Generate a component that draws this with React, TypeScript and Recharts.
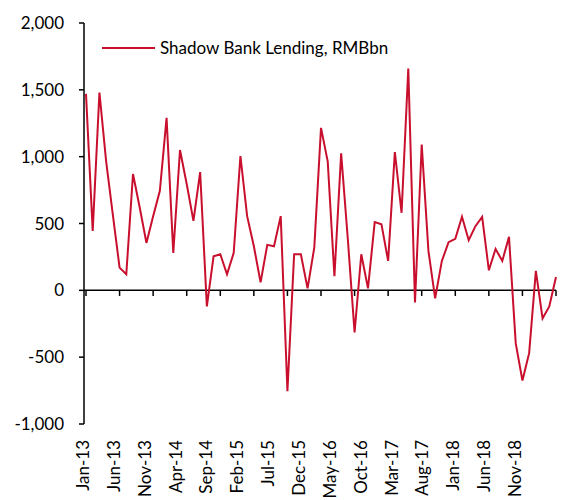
import React from "react";
import { LineChart, Line, XAxis, YAxis, ReferenceLine, Legend } from "recharts";

// monthly, Jan-13 .. Nov-18
const months = [
  "Jan-13", "Feb-13", "Mar-13", "Apr-13", "May-13", "Jun-13", "Jul-13", "Aug-13", "Sep-13", "Oct-13", "Nov-13", "Dec-13",
  "Jan-14", "Feb-14", "Mar-14", "Apr-14", "May-14", "Jun-14", "Jul-14", "Aug-14", "Sep-14", "Oct-14", "Nov-14", "Dec-14",
  "Jan-15", "Feb-15", "Mar-15", "Apr-15", "May-15", "Jun-15", "Jul-15", "Aug-15", "Sep-15", "Oct-15", "Nov-15", "Dec-15",
  "Jan-16", "Feb-16", "Mar-16", "Apr-16", "May-16", "Jun-16", "Jul-16", "Aug-16", "Sep-16", "Oct-16", "Nov-16", "Dec-16",
  "Jan-17", "Feb-17", "Mar-17", "Apr-17", "May-17", "Jun-17", "Jul-17", "Aug-17", "Sep-17", "Oct-17", "Nov-17", "Dec-17",
  "Jan-18", "Feb-18", "Mar-18", "Apr-18", "May-18", "Jun-18", "Jul-18", "Aug-18", "Sep-18", "Oct-18", "Nov-18",
];

const lending = [
  1470, 445, 1480, 965, 565, 170, 120, 870, 620, 355, 555, 745,
  1290, 280, 1050, 795, 520, 885, -120, 255, 270, 120, 280, 1005,
  555, 330, 60, 340, 330, 555, -755, 270, 270, 15, 320, 1215,
  965, 105, 1025, 380, -315, 270, 15, 510, 495, 220, 1035, 580,
  1660, -90, 1090, 295, -60, 220, 360, 385, 550, 375, 480, 550,
  150, 310, 220, 400, -395, -675, -470, 145, -210, -120, 100,
];

const tickMonths = ["Jan-13", "Jun-13", "Nov-13", "Apr-14", "Sep-14", "Feb-15", "Jul-15", "Dec-15",
  "May-16", "Oct-16", "Mar-17", "Aug-17", "Jan-18", "Jun-18", "Nov-18"];

const yTicks = [-1000, -500, 0, 500, 1000, 1500, 2000];

const data = months.map((m, i) => ({ month: m, value: lending[i] }));

const FONT = "Lato";
const RED = "#C8102E";

const LegendContent = ({ payload }: any) => (
  <div style={{ fontFamily: FONT, fontSize: 17, lineHeight: "20px", color: "#000" }}>
    {(payload || []).map((p: any) => (
      <div key={p.value} style={{ display: "flex", alignItems: "center" }}>
        <svg width={53} height={4} style={{ display: "block" }}>
          <line x1={0} y1={2} x2={53} y2={2} stroke={p.color} strokeWidth={2} />
        </svg>
        <span style={{ marginLeft: 5, whiteSpace: "nowrap" }}>{p.value}</span>
      </div>
    ))}
  </div>
);

export default function App() {
  return (
    <div style={{ position: "absolute", left: 0, top: 0, width: 566, height: 500, background: "#fff" }}>
      <LineChart width={566} height={500} data={data} margin={{ top: 23, right: 10, left: 0, bottom: 0 }}>
        <XAxis xAxisId="main" dataKey="month" hide padding={{ left: 2, right: 0 }} />
        {/* labels sit a little tighter than the ticks, like the original */}
        <XAxis
          xAxisId="labels"
          dataKey="month"
          height={76}
          interval={4}
          padding={{ left: 2, right: 38 }}
          axisLine={false}
          tickLine={false}
          angle={-90}
          textAnchor="end"
          dx={-9}
          dy={8}
          tick={{ fontFamily: FONT, fontSize: 17, fill: "#000" }}
        />
        <YAxis
          width={84}
          domain={[-1000, 2000]}
          ticks={yTicks}
          interval={0}
          tickSize={5}
          tickMargin={15}
          tickFormatter={(v: number) => v.toLocaleString("en-US")}
          axisLine={{ stroke: "#000", strokeWidth: 1.5 }}
          tickLine={{ stroke: "#000", strokeWidth: 1.5 }}
          tick={{ fontFamily: FONT, fontSize: 17, fill: "#000" }}
        />
        <ReferenceLine xAxisId="main" y={0} stroke="#000" strokeWidth={1.5} />
        {tickMonths.map((m) => (
          <ReferenceLine
            key={m}
            xAxisId="main"
            segment={[{ x: m, y: 0 }, { x: m, y: -42 }]}
            stroke="#000"
            strokeWidth={1.5}
          />
        ))}
        <Legend
          layout="horizontal"
          verticalAlign="middle"
          align="center"
          content={<LegendContent />}
          wrapperStyle={{ left: 102, top: 38, width: "auto", height: "auto" }}
        />
        <Line
          xAxisId="main"
          type="linear"
          dataKey="value"
          name="Shadow Bank Lending, RMBbn"
          stroke={RED}
          strokeWidth={2}
          dot={false}
          isAnimationActive={false}
        />
      </LineChart>
    </div>
  );
}
